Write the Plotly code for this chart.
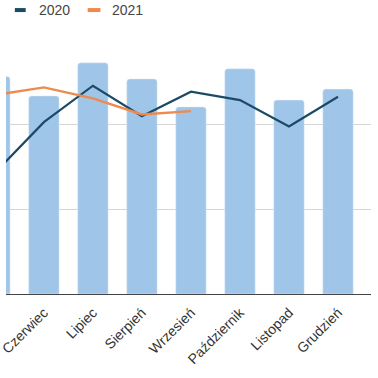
import plotly.graph_objects as go

months = ["Maj", "Czerwiec", "Lipiec", "Sierpień", "Wrzesień", "Październik", "Listopad", "Grudzień"]
bars = [25.7, 23.4, 27.3, 25.4, 22.1, 26.6, 22.9, 24.2]
line_2020 = [14.3, 20.3, 24.6, 21.0, 23.9, 22.9, 19.8, 23.3]
line_2021 = [23.5, 24.4, 23.1, 21.2, 21.6]
legend_names = ["2020", "2021"]

BAR_C = "#9fc5e8"
NAVY = "#1b4a64"
ORANGE = "#ef8a4f"

fig = go.Figure()
fig.add_trace(go.Bar(x=months, y=bars, marker_color=BAR_C, showlegend=False, hoverinfo="skip"))
fig.add_trace(go.Scatter(x=months, y=line_2020, mode="lines", line=dict(color=NAVY, width=2.2), showlegend=False))
fig.add_trace(go.Scatter(x=months[:len(line_2021)], y=line_2021, mode="lines", line=dict(color=ORANGE, width=2.4), showlegend=False))

W = 371.0
top, bottom = 40.0, 294.5
H = bottom - top

def px(x):
    return x / W

def py(y):
    return (bottom - y) / H

shapes = []
annotations = []
for name, color, x0, x1, tx in [(legend_names[0], NAVY, 9, 20, 32), (legend_names[1], ORANGE, 83, 96, 106)]:
    shapes.append(dict(type="line", xref="paper", yref="paper", x0=px(x0), x1=px(x1), y0=py(10), y1=py(10),
                       line=dict(color=color, width=4)))
    annotations.append(dict(text=name, xref="paper", yref="paper", x=px(tx), y=py(10), xanchor="left",
                            yanchor="middle", showarrow=False, font=dict(size=14, color="#444", family="Arial")))

fig.update_layout(
    width=378, height=378,
    margin=dict(l=0, r=378 - W, t=top, b=378 - bottom),
    paper_bgcolor="white", plot_bgcolor="white",
    bargap=0.38,
    barcornerradius=3,
    shapes=shapes, annotations=annotations,
    font=dict(family="Arial", size=14, color="#333"),
    xaxis=dict(range=[0.227, 7.673], tickangle=-45, showline=True, linecolor="#444", linewidth=1,
               showgrid=False, ticks="", ticklabelstandoff=4, tickfont=dict(size=14, color="#333")),
    yaxis=dict(range=[0, 30], dtick=10, showgrid=True, gridcolor="#d6d6d6", gridwidth=1,
               showticklabels=False, zeroline=False, fixedrange=True),
)

fig.write_html("out.html", config={"displayModeBar": False},
               post_script="document.body.style.margin='0';document.body.style.overflow='hidden';")
